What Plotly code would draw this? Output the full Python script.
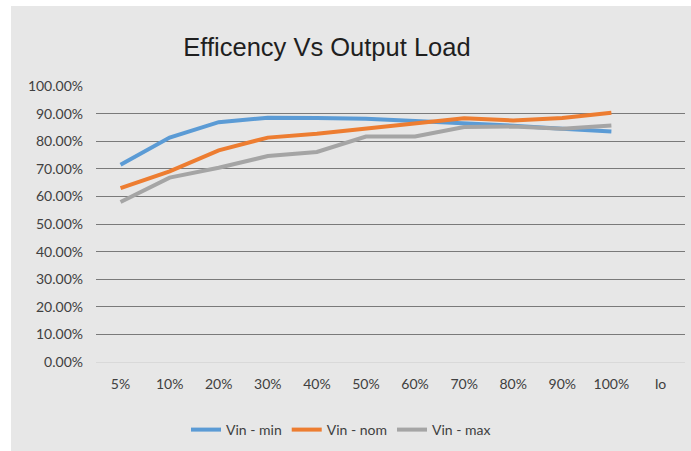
import plotly.graph_objects as go

categories = ["5%", "10%", "20%", "30%", "40%", "50%", "60%", "70%", "80%", "90%", "100%", "Io"]
vin_min = [0.715, 0.813, 0.869, 0.885, 0.884, 0.881, 0.873, 0.866, 0.856, 0.845, 0.835]
vin_nom = [0.630, 0.691, 0.767, 0.813, 0.827, 0.845, 0.863, 0.883, 0.875, 0.884, 0.903]
vin_max = [0.580, 0.668, 0.704, 0.746, 0.761, 0.817, 0.817, 0.851, 0.853, 0.845, 0.857]
y_ticks = [0, 0.1, 0.2, 0.3, 0.4, 0.5, 0.6, 0.7, 0.8, 0.9, 1.0]

series = [("Vin - min", vin_min, "#5B9BD5"),
          ("Vin - nom", vin_nom, "#ED7D31"),
          ("Vin - max", vin_max, "#A5A5A5")]

fig = go.Figure()
for name, vals, col in series:
    fig.add_trace(go.Scatter(x=categories[:len(vals)], y=vals, name=name, mode="lines",
                             line=dict(color=col, width=4)))

W, H = 691, 451
L, R, T, B = 96, 6, 86, 89
pw, ph = W - L - R, H - T - B

fig.add_shape(type="rect", xref="paper", yref="paper", layer="below",
              x0=(11 - L) / pw, x1=(W - L) / pw, y0=-(B) / ph, y1=(H - B - 6) / ph,
              fillcolor="#E7E7E7", line=dict(width=0))

fig.update_layout(
    width=W, height=H,
    margin=dict(l=L, r=R, t=T, b=B),
    paper_bgcolor="white",
    plot_bgcolor="rgba(0,0,0,0)",
    title=dict(text="Efficency Vs Output Load", x=327 / W, xref="container", xanchor="center",
               y=1 - 47 / H, yref="container", yanchor="middle",
               font=dict(family="Liberation Sans", size=25.5, color="#1f1f1f")),
    font=dict(family="Lato", size=14, color="#404040"),
    showlegend=True,
    legend=dict(orientation="h", x=341 / W, xref="container", xanchor="center",
                y=1 - 430 / H, yref="container", yanchor="middle",
                font=dict(family="Lato", size=14, color="#404040"),
                bgcolor="rgba(0,0,0,0)", itemwidth=30, tracegroupgap=0),
    xaxis=dict(type="category", categoryorder="array", categoryarray=categories,
               tickmode="array", tickvals=categories, ticktext=categories,
               range=[-0.5, 11.5], showgrid=False, zeroline=False, showline=False,
               ticks="", ticklabelstandoff=12, tickfont=dict(size=14, color="#404040")),
    yaxis=dict(range=[0, 1.0], tickvals=y_ticks, tickformat=".2%",
               showgrid=True, gridcolor="#7a7a7a", gridwidth=1,
               zeroline=True, zerolinecolor="#D9D9D9", zerolinewidth=1,
               showline=False, ticks="", ticklabelstandoff=12,
               tickfont=dict(size=14, color="#404040")),
)

fig.write_html("out.html", config={"displayModeBar": False},
               post_script="document.body.style.margin='0';")
